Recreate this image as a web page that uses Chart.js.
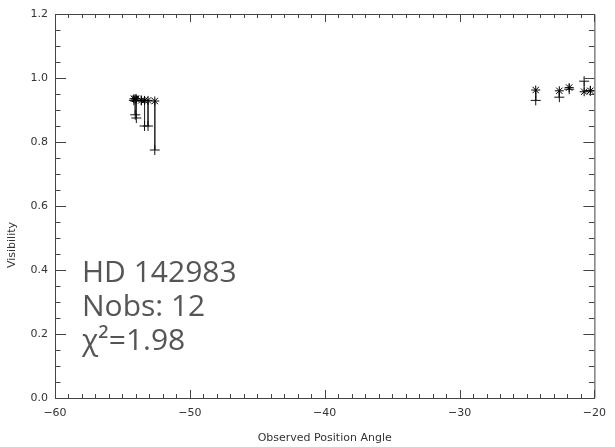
<!DOCTYPE html>
<html>
<head>
<meta charset="utf-8">
<title>HD 142983 visibility</title>
<script src="https://cdn.jsdelivr.net/npm/chart.js@4.4.0/dist/chart.umd.min.js"></script>
<style>
  html, body { margin: 0; padding: 0; background: #fff; }
  #wrap { width: 615px; height: 447px; }
</style>
</head>
<body>
<div id="wrap"><canvas id="visChart"></canvas></div>
<script>
// observed position angle (deg) for each baseline measurement
const angles = [-54.15, -54.05, -53.97, -53.6, -53.36, -53.1, -52.6,
                -24.35, -22.6, -21.87, -20.76, -20.3];
// measured visibilities (plus signs)
const visObs = [0.93, 0.885, 0.875, 0.93, 0.85, 0.85, 0.775,
                0.93, 0.94, 0.965, 0.99, 0.96];
// model visibilities (asterisks)
const visModel = [0.935, 0.935, 0.935, 0.93, 0.93, 0.93, 0.928,
                  0.9625, 0.96, 0.97, 0.957, 0.96];

const xTicks = [-60, -50, -40, -30, -20];
const yTicks = [0.0, 0.2, 0.4, 0.6, 0.8, 1.0, 1.2];

const starName = "HD 142983";
const chiSq = "1.98";

const axisColor = "#444";
const textColor = "#333";

// residual segments: model -> observed, separated by gaps
const residuals = [];
angles.forEach(function (a, i) {
  residuals.push({ x: a, y: visModel[i] });
  residuals.push({ x: a, y: visObs[i] });
  residuals.push({ x: a, y: null });
});

// inward ticks on all four sides, top/right frame, y title and star label
const frameTicks = {
  id: "frameTicks",
  afterDraw(chart) {
    const ctx = chart.ctx;
    const xs = chart.scales.x;
    const ys = chart.scales.y;
    const a = chart.chartArea;
    ctx.save();
    ctx.strokeStyle = axisColor;
    ctx.lineWidth = 1;
    ctx.beginPath();
    ctx.moveTo(a.left, a.top + 0.5);
    ctx.lineTo(a.right + 0.5, a.top + 0.5);
    ctx.lineTo(a.right + 0.5, a.bottom);
    ctx.stroke();

    ctx.beginPath();
    for (let v = xTicks[0]; v <= xTicks[xTicks.length - 1]; v++) {
      const px = Math.round(xs.getPixelForValue(v)) + 0.5;
      const len = v % 10 === 0 ? 8 : 4;
      ctx.moveTo(px, a.bottom);
      ctx.lineTo(px, a.bottom - len);
      ctx.moveTo(px, a.top);
      ctx.lineTo(px, a.top + len);
    }
    for (let i = 0; i <= 24; i++) {
      const py = Math.round(ys.getPixelForValue(i * 0.05)) + 0.5;
      const len = i % 4 === 0 ? 11 : 5.5;
      ctx.moveTo(a.left, py);
      ctx.lineTo(a.left + len, py);
      ctx.moveTo(a.right, py);
      ctx.lineTo(a.right - len, py);
    }
    ctx.stroke();

    // y axis title, sitting a little below the middle
    ctx.save();
    ctx.translate(12, 245);
    ctx.rotate(-Math.PI / 2);
    ctx.fillStyle = textColor;
    ctx.font = "11px 'DejaVu Sans'";
    ctx.textAlign = "center";
    ctx.textBaseline = "middle";
    ctx.fillText("Visibility", 0, 0);
    ctx.restore();

    // star label block
    ctx.fillStyle = "#555";
    ctx.font = "30px 'Open Sans'";
    ctx.textBaseline = "alphabetic";
    ctx.textAlign = "left";
    const lx = a.left + 27;
    ctx.fillText(starName, lx, 282);
    ctx.fillText("Nobs: " + angles.length, lx, 316);
    ctx.fillText("\u03c7\u00b2=" + chiSq, lx, 350);
    ctx.restore();
  }
};

const ctx = document.getElementById("visChart").getContext("2d");
new Chart(ctx, {
  type: "scatter",
  data: {
    datasets: [
      {
        label: "Model",
        data: angles.map((a, i) => ({ x: a, y: visModel[i] })),
        pointStyle: "star",
        pointRadius: 4.5,
        borderColor: "#000",
        backgroundColor: "#000",
        borderWidth: 1,
      },
      {
        label: "Observed",
        data: angles.map((a, i) => ({ x: a, y: visObs[i] })),
        pointStyle: "cross",
        pointRadius: 5,
        borderColor: "#111",
        backgroundColor: "#111",
        borderWidth: 1,
      },
      {
        label: "Residual",
        type: "line",
        data: residuals,
        showLine: true,
        spanGaps: false,
        pointRadius: 0,
        borderColor: "#333",
        borderWidth: 1,
        fill: false,
      },
    ],
  },
  options: {
    responsive: true,
    maintainAspectRatio: false,
    animation: false,
    events: [],
    layout: { padding: { top: 14, right: 18, left: 0, bottom: 0 } },
    plugins: {
      legend: { display: false },
      tooltip: { enabled: false },
    },
    scales: {
      x: {
        type: "linear",
        min: -60,
        max: -20,
        afterBuildTicks(scale) {
          scale.ticks = xTicks.map((v) => ({ value: v }));
        },
        afterFit(scale) {
          scale.height = 49;
        },
        grid: { display: false, drawTicks: false },
        border: { display: true, color: axisColor, width: 1 },
        ticks: {
          color: textColor,
          font: { family: "DejaVu Sans", size: 11 },
          padding: 9,
          maxRotation: 0,
          callback: (v) => (v < 0 ? "\u2212" + Math.abs(v) : String(v)),
        },
        title: {
          display: true,
          text: "Observed Position Angle",
          color: textColor,
          font: { family: "DejaVu Sans", size: 11 },
          padding: { top: 0, bottom: 2 },
        },
      },
      y: {
        type: "linear",
        min: 0,
        max: 1.2,
        afterBuildTicks(scale) {
          scale.ticks = yTicks.map((v) => ({ value: v }));
        },
        afterFit(scale) {
          scale.width = 55;
        },
        grid: { display: false, drawTicks: false },
        border: { display: true, color: axisColor, width: 1 },
        ticks: {
          color: textColor,
          font: { family: "DejaVu Sans", size: 11 },
          padding: 7,
          callback: (v) => Number(v).toFixed(1),
        },
        title: { display: false },
      },
    },
  },
  plugins: [frameTicks],
});
</script>
</body>
</html>
